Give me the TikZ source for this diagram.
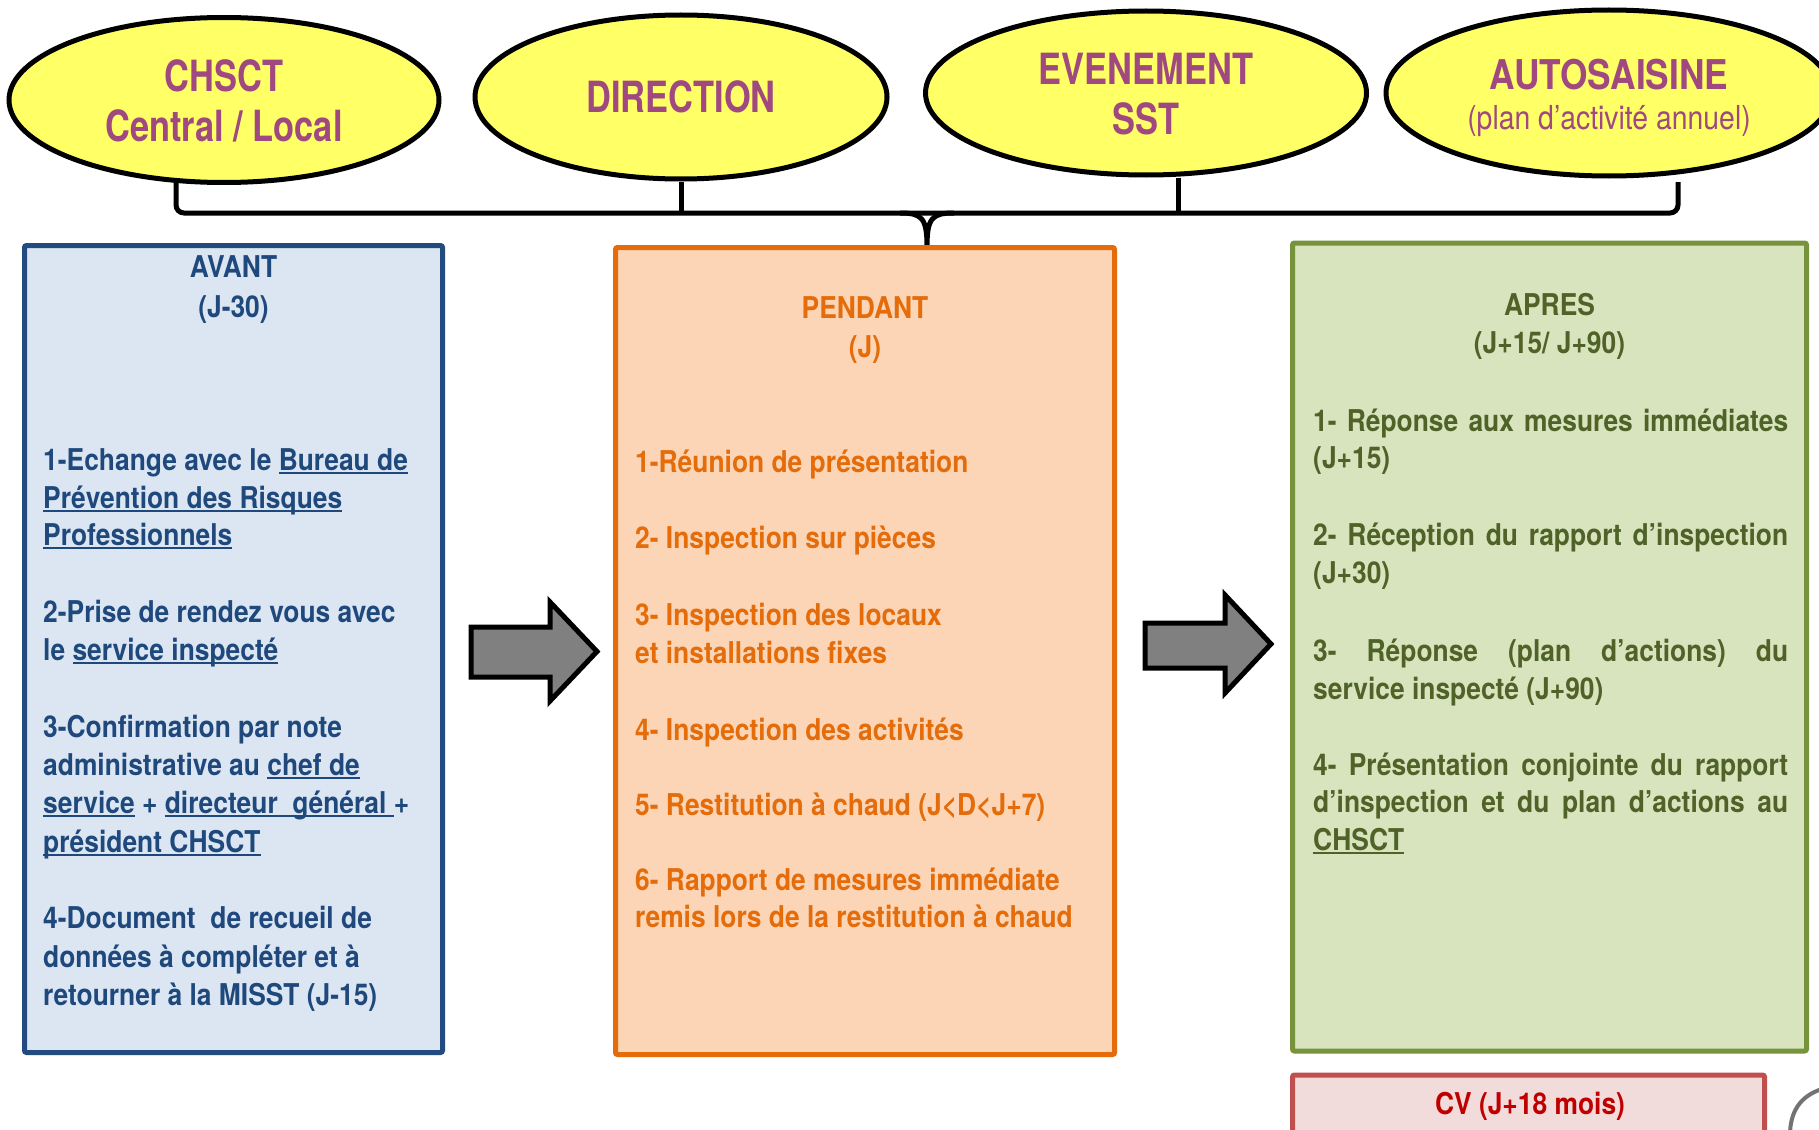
\documentclass[tikz,border=0pt]{standalone}
\usepackage{fontspec}
\usetikzlibrary{shapes.geometric}
\newfontfamily\boxfont[FakeStretch=0.88]{TeX Gyre Heros}
\newfontfamily\ellfont[FakeStretch=0.80]{TeX Gyre Heros}
\newfontfamily\autofont[FakeStretch=0.86]{TeX Gyre Heros}
\newcommand\myul[1]{\setbox0\hbox{#1}\rlap{\rule[-4pt]{\wd0}{1.8pt}}\box0\relax}
\definecolor{ellfill}{RGB}{255,255,102}
\definecolor{elltext}{RGB}{160,72,128}
\definecolor{avdraw}{RGB}{35,75,128}
\definecolor{avfill}{RGB}{220,230,242}
\definecolor{avtext}{RGB}{31,73,125}
\definecolor{pedraw}{RGB}{228,108,10}
\definecolor{pefill}{RGB}{251,213,181}
\definecolor{petext}{RGB}{228,108,10}
\definecolor{apdraw}{RGB}{119,147,60}
\definecolor{apfill}{RGB}{216,228,190}
\definecolor{aptext}{RGB}{79,98,40}
\definecolor{cvdraw}{RGB}{192,80,77}
\definecolor{cvfill}{RGB}{242,220,219}
\definecolor{cvtext}{RGB}{192,0,0}
\definecolor{arrfill}{RGB}{128,128,128}
\definecolor{arcgray}{RGB}{115,115,115}
\tikzset{
  ell/.style={ellipse, draw=black, line width=5, fill=ellfill, inner sep=0},
  etitle/.style={inner sep=0, anchor=base, text=elltext, font=\ellfont\bfseries\fontsize{43}{50}\selectfont},
  esub/.style={inner sep=0, anchor=base, text=elltext, font=\autofont\fontsize{33}{38}\selectfont},
  phase/.style={rectangle, line width=5, rounded corners=2, inner sep=0},
  btxt/.style={inner sep=0, font=\boxfont\bfseries\fontsize{30}{38}\selectfont},
  bl/.style={btxt, anchor=base west},
  bc/.style={btxt, anchor=base},
  bracket/.style={draw=black, line width=5},
  blockarrow/.style={draw=black, line width=5, fill=arrfill, line join=miter},
}
\begin{document}
\begin{tikzpicture}[x=1pt,y=-1pt]
\useasboundingbox (0,0) rectangle (1819,1129);
\fill[white] (0,0) rectangle (1819,1129);
\clip (0,0) rectangle (1819,1129);

% ellipses
\node[ell, minimum width=430, minimum height=165] (chsct) at (224,100) {};
\node[ell, minimum width=412, minimum height=164] (dir) at (681,97) {};
\node[ell, minimum width=441, minimum height=164] (ev) at (1146,93) {};
\node[ell, minimum width=446, minimum height=166] (auto) at (1609,93) {};

\node[etitle] (tchsct1) at (224,92) {CHSCT};
\node[etitle] (tchsct2) at (224,142) {Central / Local};
\node[etitle] (tdir) at (681,113) {DIRECTION};
\node[etitle] (tev1) at (1146,85) {EVENEMENT};
\node[etitle] (tev2) at (1146,135) {SST};
\node[etitle, font=\autofont\bfseries\fontsize{41}{46}\selectfont] (tauto1) at (1609,90) {AUTOSAISINE};
\node[esub] (tauto2) at (1609,130) {(plan d’activité annuel)};

% bracket
\coordinate (bl) at (176,182);
\coordinate (br) at (1678,182);
\coordinate (bdir) at (681,213);
\coordinate (bev) at (1178,213);
\coordinate (tip) at (927,247);
\draw[bracket, rounded corners=8] (bl) -- (176,213) -- (1678,213) -- (br);
\draw[bracket] (dir.south) -- (bdir);
\draw[bracket] (ev.south -| bev) -- (bev);
\draw[bracket] (900,213) .. controls (922,213) and (927,218) .. (tip)
               .. controls (927,218) and (932,213) .. (954,213);

% phase boxes
\node[phase, draw=avdraw, fill=avfill, minimum width=418, minimum height=807] (avant) at (233.5,649) {};
\node[phase, draw=pedraw, fill=pefill, minimum width=499, minimum height=807] (pendant) at (865,651) {};
\node[phase, draw=apdraw, fill=apfill, minimum width=514, minimum height=808] (apres) at (1549.5,647) {};
\node[phase, draw=cvdraw, fill=cvfill, minimum width=472, minimum height=70] (cv) at (1528.5,1110) {};

% block arrows
\draw[blockarrow] (471,627) -- (550,627) -- (550,602) -- (597,651.5) -- (550,701) -- (550,677) -- (471,677) -- cycle;
\draw[blockarrow] (1145,623) -- (1225,623) -- (1225,595) -- (1271,644) -- (1225,693) -- (1225,668) -- (1145,668) -- cycle;

% AVANT text
\begin{scope}[every node/.append style={text=avtext}]
\node[bc] (av0) at (233.5,277) {AVANT};
\node[bc] (av00) at (233.5,317) {(J-30)};
\node[bl] (av1) at (43,470) {1-Echange avec le \myul{Bureau de}};
\node[bl] (av2) at (43,508) {\myul{Prévention des Risques}};
\node[bl] (av3) at (43,545) {\myul{Professionnels}};
\node[bl] (av4) at (43,622) {2-Prise de rendez vous avec};
\node[bl] (av5) at (43,660) {le \myul{service inspecté}};
\node[bl] (av6) at (43,737) {3-Confirmation par note};
\node[bl] (av7) at (43,775) {administrative au \myul{chef de}};
\node[bl] (av8) at (43,813) {\myul{service} + \myul{directeur\ \ général\ }+};
\node[bl] (av9) at (43,852) {\myul{président CHSCT}};
\node[bl] (av10) at (43,928) {4-Document\ \ de recueil de};
\node[bl] (av11) at (43,967) {données à compléter et à};
\node[bl] (av12) at (43,1005) {retourner à la MISST (J-15)};
\end{scope}

% PENDANT text
\begin{scope}[every node/.append style={text=petext}]
\node[bc] (pe0) at (865,318) {PENDANT};
\node[bc] (pe00) at (865,357) {(J)};
\node[bl] (pe1) at (635,472) {1-Réunion de présentation};
\node[bl] (pe2) at (635,548) {2- Inspection sur pièces};
\node[bl] (pe3) at (635,625) {3- Inspection des locaux};
\node[bl] (pe4) at (635,663) {et installations fixes};
\node[bl] (pe5) at (635,740) {4- Inspection des activités};
\node[bl] (pe6) at (635,815) {5- Restitution à chaud (J\symbol{60}D\symbol{60}J+7)};
\node[bl] (pe7) at (635,890) {6- Rapport de mesures immédiate};
\node[bl] (pe8) at (635,927) {remis lors de la restitution à chaud};
\end{scope}

% APRES text
\begin{scope}[every node/.append style={text=aptext}]
\node[bc] (ap0) at (1549.5,315) {APRES};
\node[bc] (ap00) at (1549.5,353) {(J+15/ J+90)};
\node[bl] (ap1) at (1313,431) {\makebox[475pt][s]{1- Réponse aux mesures immédiates}};
\node[bl] (ap2) at (1313,468) {(J+15)};
\node[bl] (ap3) at (1313,545) {\makebox[475pt][s]{2- Réception du rapport d’inspection}};
\node[bl] (ap4) at (1313,583) {(J+30)};
\node[bl] (ap5) at (1313,661) {\makebox[475pt][s]{3- Réponse (plan d’actions) du}};
\node[bl] (ap6) at (1313,699) {service inspecté (J+90)};
\node[bl] (ap7) at (1313,775) {\makebox[475pt][s]{4- Présentation conjointe du rapport}};
\node[bl] (ap8) at (1313,812) {\makebox[475pt][s]{d’inspection et du plan d’actions au}};
\node[bl] (ap9) at (1313,850) {\myul{CHSCT}};
\end{scope}

\node[bc, text=cvtext] (cvt) at (1530,1114) {CV (J+18 mois)};

% partial grey circle at bottom right
\draw[arcgray, line width=4] (1822,1089) .. controls (1800,1096) and (1790,1112) .. (1790,1135);
\end{tikzpicture}
\end{document}
